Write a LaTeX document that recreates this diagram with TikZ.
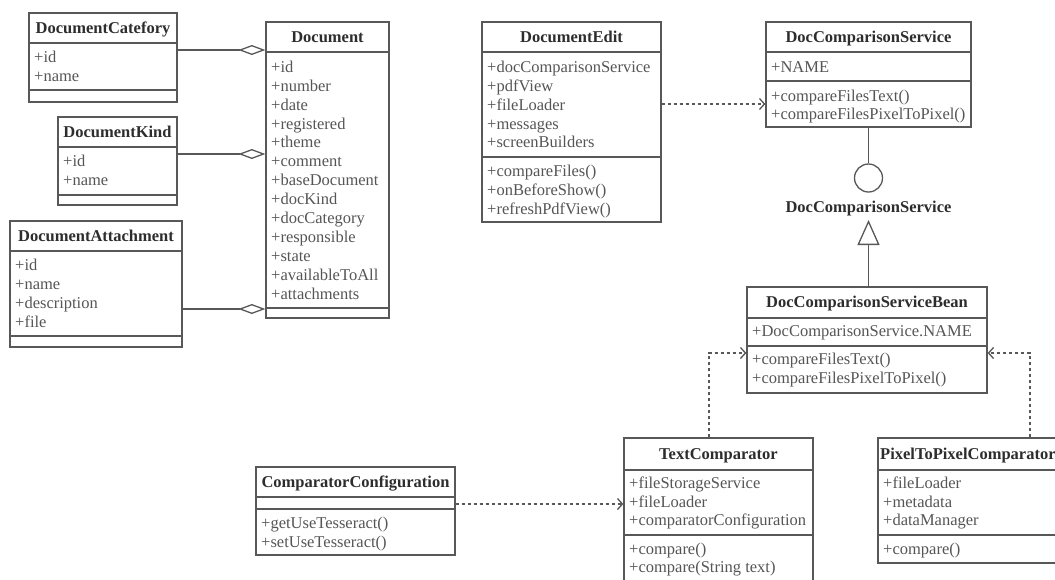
\documentclass[tikz,border=0pt]{standalone}
\usepackage{fontspec}
\setmainfont{Liberation Serif}
\usetikzlibrary{arrows.meta,fit}
\definecolor{ln}{RGB}{88,88,88}
\definecolor{tt}{RGB}{45,45,45}
\definecolor{at}{RGB}{85,85,85}
\tikzset{
 umlbox/.style={draw=ln, line width=1.3pt, inner sep=0pt},
 ttl/.style={font=\fontsize{16.5}{19}\selectfont\bfseries, text=tt, inner sep=0pt, text height=12pt, text depth=2pt},
 att/.style={font=\fontsize{16.5}{19}\selectfont, text=at, inner sep=0pt, anchor=west, text height=12pt, text depth=2pt},
 sepl/.style={draw=ln, line width=1.3pt},
 agg/.style={draw=ln, line width=1.3pt, -{Diamond[open,length=27pt,width=10pt]}},
 dep/.style={draw=ln, line width=1.3pt, dash pattern=on 3pt off 3pt, -{Straight Barb[length=5pt,width=11pt]}},
 gen/.style={draw=ln, line width=1.3pt, -{Triangle[open,length=25pt,width=22pt]}},
 ball/.style={draw=ln, line width=1.3pt, circle, minimum size=28pt, inner sep=0pt},
}
\begin{document}
\begin{tikzpicture}[x=1pt,y=-1pt]
\useasboundingbox (0,0) rectangle (1055,579);
\clip (0,0) rectangle (1055,579);

% DocumentCatefory
\node[umlbox, fit={(29,13) (177,102)}] (cat) {};
\draw[sepl] (cat.west |- 0,43) -- (cat.east |- 0,43);
\draw[sepl] (cat.west |- 0,90) -- (cat.east |- 0,90);
\node[ttl] (catT) at (cat.north |- 0,28) {DocumentCatefory};
\node[att] (catA1) at (34,57) {+id};
\node[att] (catA2) at (34,76) {+name};

% DocumentKind
\node[umlbox, fit={(58,117) (177,205)}] (kind) {};
\draw[sepl] (kind.west |- 0,147) -- (kind.east |- 0,147);
\draw[sepl] (kind.west |- 0,195) -- (kind.east |- 0,195);
\node[ttl] (kindT) at (kind.north |- 0,132) {DocumentKind};
\node[att] (kindA1) at (63,161) {+id};
\node[att] (kindA2) at (63,180) {+name};

% DocumentAttachment
\node[umlbox, fit={(10,221) (182,347)}] (att) {};
\draw[sepl] (att.west |- 0,251) -- (att.east |- 0,251);
\draw[sepl] (att.west |- 0,336) -- (att.east |- 0,336);
\node[ttl] (attT) at (att.north |- 0,236) {DocumentAttachment};
\node[att] (attA1) at (15,265) {+id};
\node[att] (attA2) at (15,284) {+name};
\node[att] (attA3) at (15,303) {+description};
\node[att] (attA4) at (15,322) {+file};

% Document
\node[umlbox, fit={(266,22) (389,318)}] (doc) {};
\draw[sepl] (doc.west |- 0,52) -- (doc.east |- 0,52);
\draw[sepl] (doc.west |- 0,308) -- (doc.east |- 0,308);
\node[ttl] (docT) at (doc.north |- 0,37) {Document};
\node[att] (docA1) at (271,67) {+id};
\node[att] (docA2) at (271,86) {+number};
\node[att] (docA3) at (271,105) {+date};
\node[att] (docA4) at (271,124) {+registered};
\node[att] (docA5) at (271,142) {+theme};
\node[att] (docA6) at (271,161) {+comment};
\node[att] (docA7) at (271,180) {+baseDocument};
\node[att] (docA8) at (271,199) {+docKind};
\node[att] (docA9) at (271,218) {+docCategory};
\node[att] (docA10) at (271,237) {+responsible};
\node[att] (docA11) at (271,256) {+state};
\node[att] (docA12) at (271,275) {+availableToAll};
\node[att] (docA13) at (271,294) {+attachments};

\draw[agg] (cat.east |- 0,50) -- (doc.west |- 0,50);
\draw[agg] (kind.east |- 0,154) -- (doc.west |- 0,154);
\draw[agg] (att.east |- 0,309) -- (doc.west |- 0,309);

% DocumentEdit
\node[umlbox, fit={(482,22) (661,222)}] (edit) {};
\draw[sepl] (edit.west |- 0,52) -- (edit.east |- 0,52);
\draw[sepl] (edit.west |- 0,157) -- (edit.east |- 0,157);
\node[ttl] (editT) at (edit.north |- 0,37) {DocumentEdit};
\node[att] (editA1) at (487,67) {+docComparisonService};
\node[att] (editA2) at (487,86) {+pdfView};
\node[att] (editA3) at (487,105) {+fileLoader};
\node[att] (editA4) at (487,124) {+messages};
\node[att] (editA5) at (487,142) {+screenBuilders};
\node[att] (editM1) at (487,171) {+compareFiles()};
\node[att] (editM2) at (487,190) {+onBeforeShow()};
\node[att] (editM3) at (487,209) {+refreshPdfView()};

% DocComparisonService
\node[umlbox, fit={(766,22) (971,127)}] (dcs) {};
\draw[sepl] (dcs.west |- 0,52) -- (dcs.east |- 0,52);
\draw[sepl] (dcs.west |- 0,81) -- (dcs.east |- 0,81);
\node[ttl] (dcsT) at (dcs.north |- 0,37) {DocComparisonService};
\node[att] (dcsA1) at (771,67) {+NAME};
\node[att] (dcsM1) at (771,96) {+compareFilesText()};
\node[att] (dcsM2) at (771,114) {+compareFilesPixelToPixel()};

\draw[dep] (edit.east |- 0,104) -- (dcs.west |- 0,104);

% interface lollipop
\node[ball] (ball) at (868.5,178) {};
\draw[sepl] (dcs.south) -- (ball.north);
\node[ttl] (iface) at (868.5,207) {DocComparisonService};

% DocComparisonServiceBean
\node[umlbox, fit={(747,287) (987,393)}] (bean) {};
\draw[sepl] (bean.west |- 0,318) -- (bean.east |- 0,318);
\draw[sepl] (bean.west |- 0,346) -- (bean.east |- 0,346);
\node[ttl] (beanT) at (bean.north |- 0,302) {DocComparisonServiceBean};
\node[att] (beanA1) at (752,331) {+DocComparisonService.NAME};
\node[att] (beanM1) at (752,359) {+compareFilesText()};
\node[att] (beanM2) at (752,378) {+compareFilesPixelToPixel()};

\draw[gen] (bean.north -| ball.center) -- (ball.center |- 0,220);

% TextComparator
\node[umlbox, fit={(624,438) (813,600)}] (text) {};
\draw[sepl] (text.west |- 0,470) -- (text.east |- 0,470);
\draw[sepl] (text.west |- 0,535) -- (text.east |- 0,535);
\node[ttl] (textT) at (text.north |- 0,454) {TextComparator};
\node[att] (textA1) at (629,483) {+fileStorageService};
\node[att] (textA2) at (629,502) {+fileLoader};
\node[att] (textA3) at (629,520) {+comparatorConfiguration};
\node[att] (textM1) at (629,549) {+compare()};
\node[att] (textM2) at (629,567) {+compare(String text)};

% PixelToPixelComparator
\node[umlbox, fit={(878,438) (1066,563)}] (pix) {};
\draw[sepl] (pix.west |- 0,470) -- (pix.east |- 0,470);
\draw[sepl] (pix.west |- 0,535) -- (pix.east |- 0,535);
\node[ttl, anchor=west] (pixT) at (880,454) {PixelToPixelComparator};
\node[att] (pixA1) at (883,483) {+fileLoader};
\node[att] (pixA2) at (883,502) {+metadata};
\node[att] (pixA3) at (883,520) {+dataManager};
\node[att] (pixM1) at (883,549) {+compare()};

% ComparatorConfiguration
\node[umlbox, fit={(256,467) (455,555)}] (cfg) {};
\draw[sepl] (cfg.west |- 0,497) -- (cfg.east |- 0,497);
\draw[sepl] (cfg.west |- 0,509) -- (cfg.east |- 0,509);
\node[ttl] (cfgT) at (cfg.north |- 0,482) {ComparatorConfiguration};
\node[att] (cfgM1) at (261,523) {+getUseTesseract()};
\node[att] (cfgM2) at (261,542) {+setUseTesseract()};

% dependencies
\draw[dep] (cfg.east |- 0,504) -- (text.west |- 0,504);
\draw[dep] (text.north -| 709,0) |- (bean.west |- 0,353);
\draw[dep] (pix.north -| 1030,0) |- (bean.east |- 0,353);
\end{tikzpicture}
\end{document}
